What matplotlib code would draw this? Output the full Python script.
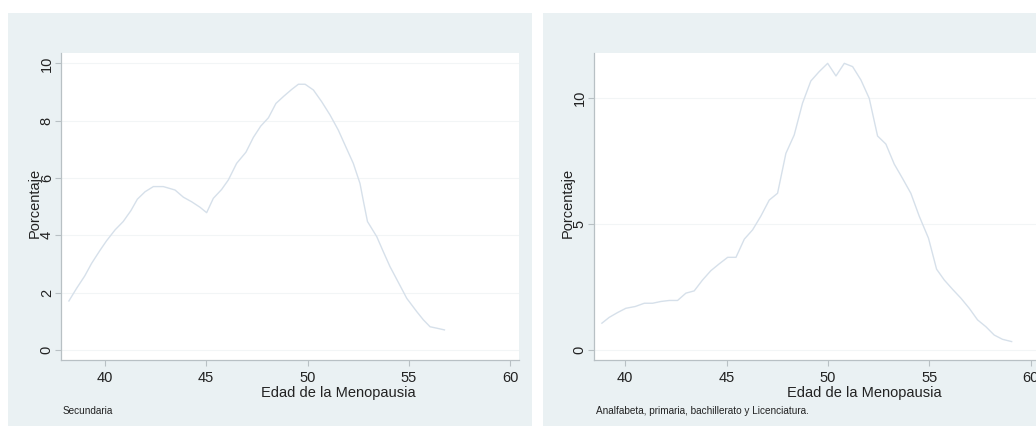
"""
Distribución de la edad de la menopausia por nivel de estudios (dos paneles).
"""

import matplotlib.pyplot as plt
from matplotlib.patches import Rectangle

plt.rcParams["font.family"] = ["Liberation Sans", "DejaVu Sans"]

# Secundaria
edad_sec = [38.22, 38.6, 39.0, 39.34, 39.75, 40.08, 40.5, 40.9, 41.28, 41.6,
            41.98, 42.39, 42.88, 43.46, 43.87, 44.28, 44.69, 45.02, 45.35, 45.76,
            46.09, 46.5, 46.96, 47.33, 47.69, 48.07, 48.44, 48.84, 49.22, 49.55,
            49.88, 50.29, 50.7, 51.11, 51.52, 51.85, 52.26, 52.59, 52.77, 52.96,
            53.42, 53.74, 54.07, 54.49, 54.9, 55.39, 55.72, 56.05, 56.38, 56.76]
pct_sec = [1.71, 2.15, 2.58, 3.02, 3.47, 3.81, 4.19, 4.48, 4.86, 5.26,
           5.52, 5.70, 5.70, 5.58, 5.33, 5.17, 4.98, 4.79, 5.29, 5.60,
           5.93, 6.51, 6.90, 7.42, 7.81, 8.10, 8.60, 8.86, 9.09, 9.27,
           9.27, 9.07, 8.66, 8.20, 7.67, 7.15, 6.51, 5.81, 5.15, 4.48,
           3.95, 3.43, 2.91, 2.35, 1.80, 1.34, 1.05, 0.81, 0.76, 0.70]

# Analfabeta, primaria, bachillerato y licenciatura
edad_otr = [38.85, 39.21, 39.62, 40.03, 40.49, 40.94, 41.35, 41.76, 42.17, 42.58,
            42.99, 43.4, 43.81, 44.22, 44.63, 45.05, 45.46, 45.87, 46.28, 46.69,
            47.1, 47.51, 47.92, 48.33, 48.74, 49.15, 49.56, 49.98, 50.39, 50.8,
            51.21, 51.62, 52.03, 52.44, 52.85, 53.26, 53.67, 54.08, 54.49, 54.95,
            55.35, 55.73, 56.14, 56.55, 56.96, 57.37, 57.78, 58.19, 58.6, 59.05]
pct_otr = [1.06, 1.29, 1.48, 1.65, 1.72, 1.85, 1.85, 1.92, 1.96, 1.96,
           2.25, 2.34, 2.77, 3.14, 3.41, 3.67, 3.67, 4.39, 4.76, 5.31,
           5.94, 6.21, 7.79, 8.52, 9.78, 10.66, 11.03, 11.36, 10.86, 11.36,
           11.23, 10.70, 9.97, 8.48, 8.16, 7.37, 6.80, 6.21, 5.31, 4.43,
           3.20, 2.77, 2.40, 2.05, 1.65, 1.19, 0.92, 0.59, 0.42, 0.33]

xticks = [40, 45, 50, 55, 60]
yticks_sec = [0, 2, 4, 6, 8, 10]
yticks_otr = [0, 5, 10]

notas = ["Secundaria", "Analfabeta, primaria, bachillerato y Licenciatura."]

W, H = 1036, 426
FONDO = "#eaf1f3"
LINEA = "#d6e0ea"
EJE = "#b8c0c4"

fig = plt.figure(figsize=(W / 100, H / 100), dpi=100)
fig.patch.set_facecolor("white")

# fondos de cada panel (px: x0, x1), por debajo de los ejes
for x0, x1 in [(8, 532), (543, 1070)]:
    fig.patches.append(Rectangle((x0 / W, 0), (x1 - x0) / W, 1 - 13 / H,
                                 transform=fig.transFigure, facecolor=FONDO,
                                 edgecolor="none", zorder=-10))

paneles = [
    dict(left=61, x=edad_sec, y=pct_sec, yt=yticks_sec, xlim=(37.83, 60.44),
         ylim=(-0.35, 10.36), xlab=0.605, nota=notas[0]),
    dict(left=594, x=edad_otr, y=pct_otr, yt=yticks_otr, xlim=(38.46, 61.04),
         ylim=(-0.4, 11.77), xlab=0.59, nota=notas[1]),
]

for p in paneles:
    ax = fig.add_axes([p["left"] / W, (H - 360) / H, 458 / W, 307 / H])
    ax.set_zorder(1)
    ax.set_facecolor("white")
    ax.plot(p["x"], p["y"], color=LINEA, lw=1.0)
    ax.set_xlim(*p["xlim"])
    ax.set_ylim(*p["ylim"])
    ax.set_xticks(xticks)
    ax.set_yticks(p["yt"])
    ax.set_yticklabels([str(v) for v in p["yt"]], rotation=90, va="center")
    ax.grid(axis="y", color="#f2f5f6", lw=0.8)
    ax.set_axisbelow(True)
    for s in ["top", "right"]:
        ax.spines[s].set_visible(False)
    for s in ["left", "bottom"]:
        ax.spines[s].set_color(EJE)
        ax.spines[s].set_linewidth(0.9)
    ax.tick_params(length=4.2, width=0.8, color=EJE, labelcolor="#222222",
                   labelsize=10.5, pad=4)
    ax.tick_params(axis="y", pad=1)
    ax.set_xlabel("Edad de la Menopausia", fontsize=10.5, color="#222222")
    ax.xaxis.set_label_coords(p["xlab"], -0.085)
    ax.set_ylabel("Porcentaje", fontsize=10.5, color="#222222")
    ax.yaxis.set_label_coords(-0.043, 0.51)
    fig.text((p["left"] + 2) / W, 1 - 411 / H, p["nota"], fontsize=7.2,
             color="#222222", va="center", ha="left")

fig.savefig("out.png", dpi=100, facecolor=fig.get_facecolor())
